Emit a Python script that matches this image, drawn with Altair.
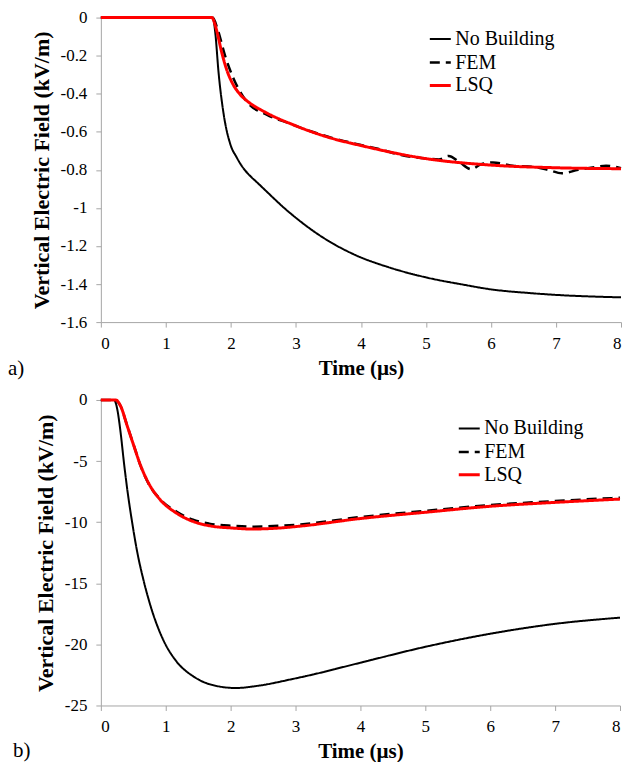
import altair as alt
import pandas as pd

FONT = "Liberation Serif, Times New Roman, DejaVu Serif, serif"
SERIES = ["No Building", "FEM", "LSQ"]
PANEL_LABELS = ["a)", "b)"]

# ---------- panel a ----------
A_NB_T = [0, 1.70, 1.73, 1.76, 1.81, 1.89, 1.99, 2.09, 2.14, 2.20, 2.29, 2.39, 2.90, 3.40,
          3.91, 4.41, 5.00, 5.57, 6.00, 6.58, 7.00, 8.00]
A_NB_E = [0, 0, -0.01, -0.08, -0.287, -0.51, -0.664, -0.735, -0.765, -0.795, -0.83, -0.862,
          -1.024, -1.152, -1.247, -1.31, -1.365, -1.403, -1.428, -1.447, -1.457, -1.470]

A_FEM_T = [0, 1.72, 1.79, 1.91, 2.04, 2.24, 2.55, 2.90, 3.25, 3.61, 3.93, 4.26, 4.62, 5.02,
           5.20, 5.35, 5.50, 5.70, 5.85, 6.03, 6.33, 6.68, 6.88, 7.09, 7.34, 7.59, 7.77, 8.00]
A_FEM_E = [0, 0, -0.055, -0.20, -0.32, -0.44, -0.51, -0.556, -0.60, -0.637, -0.664, -0.689,
           -0.722, -0.741, -0.745, -0.727, -0.755, -0.797, -0.77, -0.761, -0.778, -0.786,
           -0.80, -0.818, -0.80, -0.786, -0.778, -0.792]

A_LSQ_T = [0, 1.71, 1.75, 1.79, 1.86, 1.94, 2.04, 2.14, 2.29, 2.50, 3.00, 3.50, 4.06, 5.00,
           6.00, 7.00, 8.00]
A_LSQ_E = [0, 0, -0.03, -0.08, -0.184, -0.278, -0.355, -0.403, -0.449, -0.492, -0.569,
           -0.629, -0.677, -0.741, -0.775, -0.789, -0.794]

A_Y_TICKS = [0, -0.2, -0.4, -0.6, -0.8, -1, -1.2, -1.4, -1.6]

# ---------- panel b ----------
B_NB_T = [0, 0.203, 0.253, 0.304, 0.355, 0.405, 0.48, 0.558, 0.66, 0.786, 0.963, 1.166,
          1.42, 1.67, 2.08, 2.43, 2.94, 3.24, 4, 5, 6, 7, 8]
B_NB_E = [0, 0, -0.76, -2.65, -5.08, -7.24, -9.94, -12.37, -14.8, -17.2, -19.65, -21.4,
          -22.6, -23.25, -23.57, -23.38, -22.85, -22.5, -21.5, -20.2, -19.13, -18.32, -17.81]

B_FEM_T = [0, 0.21, 0.30, 0.40, 0.51, 0.61, 0.735, 0.91, 1.17, 1.42, 1.67, 2.03, 2.33, 2.74,
           3.08, 4, 5, 6, 7, 8]
B_FEM_E = [0, 0, -0.45, -2.0, -3.75, -5.35, -6.85, -8.1, -9.15, -9.8, -10.12, -10.3,
           -10.37, -10.3, -10.18, -9.58, -9.07, -8.6, -8.27, -8.0]

B_LSQ_T = [0, 0.228, 0.304, 0.405, 0.507, 0.608, 0.735, 0.912, 1.166, 1.42, 1.67, 2.03, 2.33,
           2.74, 3.08, 4, 5, 6, 7, 8]
B_LSQ_E = [0, 0, -0.49, -2.1, -3.73, -5.3, -6.8, -8.15, -9.26, -9.94, -10.29, -10.48,
           -10.56, -10.48, -10.32, -9.7, -9.19, -8.7, -8.38, -8.11]

B_Y_TICKS = [0, -5, -10, -15, -20, -25]

X_TICKS = [0, 1, 2, 3, 4, 5, 6, 7, 8]


def panel_df(ts, es):
    rows = []
    for name, t, e in zip(SERIES, ts, es):
        for i, (a, b) in enumerate(zip(t, e)):
            rows.append({"t": a, "E": b, "series": name, "i": i})
    return pd.DataFrame(rows)


def make_legend(lx, ly):
    return alt.Legend(
        title=None, orient="none", legendX=lx, legendY=ly,
        symbolType="stroke", symbolSize=441, symbolStrokeWidth=2.5,
        labelFont=FONT, labelFontSize=20, labelColor="black", labelOffset=3,
        rowPadding=1, padding=0, labelLimit=300,
    )


def panel(df, ydom, yticks, w, h, lx, ly, label, label_x, label_y):
    lg = make_legend(lx, ly)
    lines = alt.Chart(df).mark_line(interpolate="monotone").encode(
        x=alt.X("t:Q", scale=alt.Scale(domain=[0, 8], nice=False, zero=False),
                axis=alt.Axis(title="Time (µs)", values=X_TICKS, format="d")),
        y=alt.Y("E:Q", scale=alt.Scale(domain=ydom, nice=False, zero=False),
                axis=alt.Axis(title="Vertical Electric Field (kV/m)", values=yticks,
                              labelExpr="replace(format(datum.value, '~g'), '\u2212', '-')")),
        color=alt.Color("series:N", scale=alt.Scale(domain=SERIES, range=["#000000", "#000000", "#ff0000"]), legend=lg),
        strokeDash=alt.StrokeDash("series:N", scale=alt.Scale(domain=SERIES, range=[[1, 0], [10, 6], [1, 0]]), legend=lg),
        strokeWidth=alt.StrokeWidth("series:N", scale=alt.Scale(domain=SERIES, range=[2, 3, 2.5]), legend=None),
        order=alt.Order("i:Q"),
    )
    lab = alt.Chart(pd.DataFrame({"lab": [label]})).mark_text(
        align="left", baseline="alphabetic", font=FONT, fontSize=21, color="black"
    ).encode(x=alt.value(label_x), y=alt.value(label_y), text="lab:N")
    return alt.layer(lines, lab).properties(width=w, height=h)


top = panel(panel_df([A_NB_T, A_FEM_T, A_LSQ_T], [A_NB_E, A_FEM_E, A_LSQ_E]),
            [-1.6, 0], A_Y_TICKS, 521, 305, 328, 10, PANEL_LABELS[0], -93, 358)
bottom = panel(panel_df([B_NB_T, B_FEM_T, B_LSQ_T], [B_NB_E, B_FEM_E, B_LSQ_E]),
               [-25, 0], B_Y_TICKS, 520, 306, 357, 17, PANEL_LABELS[1], -88, 358)

chart = alt.concat(top, bottom, columns=1, spacing=12, align="none").resolve_scale(
    color="independent", strokeDash="independent", strokeWidth="independent"
).resolve_legend(
    color="independent", strokeDash="independent"
).properties(
    padding={"left": 0, "top": 0, "right": 0, "bottom": 0}
).configure_view(stroke=None).configure_axis(
    grid=False, domainColor="#a6a6a6", tickColor="#a6a6a6", tickSize=5,
    domainWidth=1, tickWidth=1,
    labelFont=FONT, labelFontSize=17, labelColor="black", labelPadding=8,
    titleFont=FONT, titleFontSize=21, titleFontWeight="bold", titleColor="black",
    titlePadding=6,
).configure_axisY(labelPadding=9, titlePadding=7, titleFontSize=22)

chart.save("out.html", embed_options={"renderer": "svg", "actions": False})
